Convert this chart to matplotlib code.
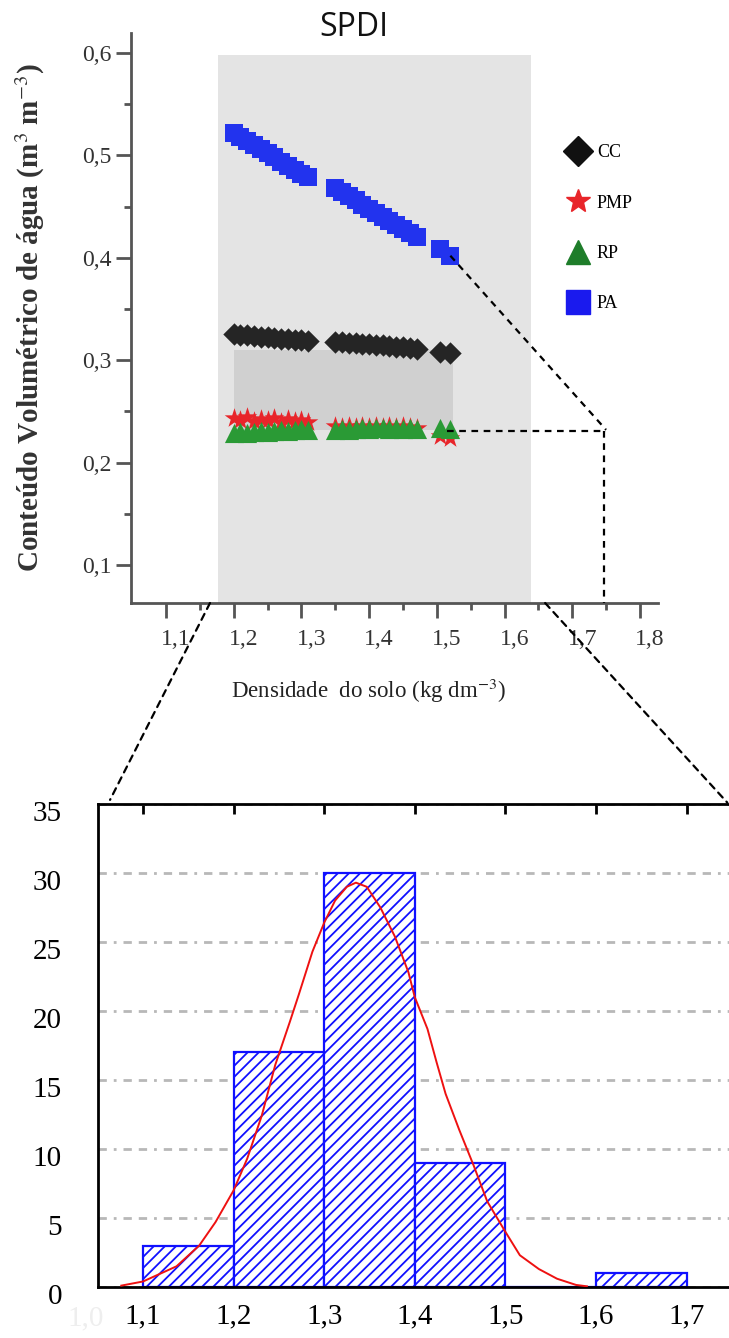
import numpy as np
import matplotlib.pyplot as plt
from matplotlib.lines import Line2D
from matplotlib.patches import ConnectionPatch
import matplotlib.transforms as mtransforms

plt.rcParams['font.family'] = ['Liberation Serif', 'DejaVu Serif']
plt.rcParams['hatch.linewidth'] = 1.3
plt.rcParams['mathtext.fontset'] = 'stix'

# --- top chart: water content vs soil density ---
X_G = [1.20, 1.21, 1.22, 1.23, 1.24, 1.25, 1.26, 1.27, 1.28, 1.29, 1.30, 1.31,
       1.35, 1.36, 1.37, 1.38, 1.39, 1.40, 1.41, 1.42, 1.43, 1.44, 1.45, 1.46, 1.47,
       1.505, 1.52]
PA = [0.522, 0.518, 0.514, 0.510, 0.506, 0.502, 0.498, 0.494, 0.490, 0.486, 0.482, 0.479,
      0.468, 0.464, 0.460, 0.456, 0.452, 0.448, 0.444, 0.440, 0.436, 0.432, 0.428, 0.424, 0.420,
      0.409, 0.402]
CC = [0.326, 0.325, 0.325, 0.324, 0.323, 0.323, 0.322, 0.321, 0.321, 0.320, 0.320, 0.319,
      0.318, 0.318, 0.317, 0.317, 0.316, 0.316, 0.315, 0.315, 0.314, 0.313, 0.313, 0.312, 0.311,
      0.308, 0.307]
PMP = [0.244, 0.242, 0.245, 0.241, 0.243, 0.242, 0.244, 0.240, 0.243, 0.241, 0.242, 0.240,
       0.236, 0.235, 0.236, 0.235, 0.236, 0.235, 0.236, 0.235, 0.236, 0.235, 0.236, 0.235, 0.234,
       0.226, 0.224]
RP = [0.229, 0.230, 0.229, 0.230, 0.231, 0.230, 0.231, 0.232, 0.231, 0.232, 0.233, 0.232,
      0.232, 0.233, 0.232, 0.233, 0.234, 0.233, 0.234, 0.234, 0.233, 0.234, 0.233, 0.234, 0.233,
      0.234, 0.233]

# --- bottom chart: histogram of soil density ---
BIN_EDGES = [1.1, 1.2, 1.3, 1.4, 1.5, 1.6, 1.7]
COUNTS = [3, 17, 30, 9, 0, 1]
CURVE_X = [1.076, 1.100, 1.137, 1.162, 1.180, 1.200, 1.215, 1.231, 1.246, 1.262, 1.272,
           1.287, 1.300, 1.312, 1.325, 1.335, 1.347, 1.362, 1.378, 1.393, 1.400, 1.414,
           1.424, 1.434, 1.449, 1.465, 1.480, 1.500, 1.516, 1.537, 1.557, 1.578, 1.590]
CURVE_Y = [0.1, 0.4, 1.5, 3.0, 4.7, 7.0, 9.3, 12.4, 16.1, 19.2, 21.2,
           24.3, 26.4, 28.0, 29.0, 29.3, 29.0, 27.5, 25.4, 22.8, 21.0, 18.7,
           16.3, 14.0, 11.4, 8.8, 6.2, 4.0, 2.3, 1.3, 0.6, 0.15, 0.05]

W, H = 729, 1338
fig = plt.figure(figsize=(W / 100, H / 100), dpi=100)


def px_axes(l, t, r, b):
    return fig.add_axes([l / W, 1 - b / H, (r - l) / W, (b - t) / H])


def comma(v, nd=1):
    return ('%.*f' % (nd, v)).replace('.', ',')


# top axes
ax = px_axes(131, 33, 658, 603)
ax.set_xlim(1.0483, 1.8267)
ax.set_ylim(0.0629, 0.6195)
for s in ['top', 'right']:
    ax.spines[s].set_visible(False)
for s in ['left', 'bottom']:
    ax.spines[s].set_color('#555555')
    ax.spines[s].set_linewidth(2)

ax.axvspan(1.177, 1.639, ymax=(0.598 - 0.0629) / (0.6195 - 0.0629), color='#e4e4e4', zorder=0, lw=0)
ax.fill_between([1.2, 1.524], 0.232, 0.31, color='#d0d0d0', zorder=0.5, lw=0)

ax.scatter(X_G, PMP, marker='*', s=220, color='#e8252a', zorder=2, lw=0)
ax.scatter(X_G, RP, marker='^', s=190, color='#2a9a35', zorder=3, lw=0)
ax.scatter(X_G, CC, marker='D', s=130, color='#252525', zorder=3, lw=0)
ax.scatter(X_G, PA, marker='s', s=170, color='#2233ee', zorder=3, lw=0)

yt = [0.1, 0.2, 0.3, 0.4, 0.5, 0.6]
ax.set_yticks(yt)
ax.set_yticklabels([comma(v) for v in yt])
ax.set_yticks([0.15, 0.25, 0.35, 0.45, 0.55], minor=True)
xt = [1.1, 1.2, 1.3, 1.4, 1.5, 1.6, 1.7, 1.8]
ax.set_xticks(xt)
ax.set_xticklabels([comma(v) for v in xt])
ax.set_xticks([1.15, 1.25, 1.35, 1.45, 1.55, 1.65, 1.75], minor=True)
ax.tick_params(axis='both', which='major', length=11, width=2, color='#555555',
               labelsize=17, labelcolor='#333333')
ax.tick_params(axis='both', which='minor', length=5, width=2, color='#555555')
ax.tick_params(axis='y', pad=3)
ax.tick_params(axis='x', pad=8)
off = mtransforms.ScaledTranslation(10 / 100, 0, fig.dpi_scale_trans)
for lab in ax.get_xticklabels():
    lab.set_transform(lab.get_transform() + off)

ax.set_ylabel('Conteúdo Volumétrico de água (m$^3$ m$^{-3}$)', fontsize=21,
              fontweight='bold', color='#333333')
ax.yaxis.set_label_coords(-0.16, 0.5)
ax.set_xlabel('Densidade  do solo (kg dm$^{-3}$)', fontsize=16.5, color='#222222')
ax.xaxis.set_label_coords(0.45, -0.13)

# guide lines from PA end to density limit
ax.plot([X_G[-1], 1.75], [PA[-1], 0.232], ls=(0, (3, 2.5)), color='black', lw=1.6, clip_on=False, zorder=4)
ax.plot([1.515, 1.75], [0.231, 0.231], ls=(0, (3, 2.5)), color='black', lw=1.6, clip_on=False, zorder=4)
ax.plot([1.747, 1.747], [0.231, 0.0629], ls=(0, (3, 2.5)), color='black', lw=1.6, clip_on=False, zorder=4)

handles = [
    Line2D([], [], ls='', marker='D', ms=15, color='#111111'),
    Line2D([], [], ls='', marker='*', ms=18, color='#e8252a'),
    Line2D([], [], ls='', marker='^', ms=17, color='#1e7d2a'),
    Line2D([], [], ls='', marker='s', ms=17, color='#1a1aee'),
]
fig.legend(handles, ['CC', 'PMP', 'RP', 'PA'], loc='upper left',
           bbox_to_anchor=(548 / W, 1 - 128 / H), frameon=False, fontsize=13,
           labelspacing=1.85, handletextpad=0.3, handlelength=1.5)

fig.text(354 / W, 1 - 28 / H, 'SPDI', ha='center', va='center', fontsize=23,
         family=['Open Sans', 'DejaVu Sans'], color='#111111')

# bottom axes
bx = px_axes(98, 804, 740, 1287)
bx.set_xlim(1.0503, 1.759)
bx.set_ylim(0, 35)
for s in bx.spines.values():
    s.set_color('black')
    s.set_linewidth(2)

bt_y = [0, 5, 10, 15, 20, 25, 30, 35]
bx.set_yticks(bt_y)
bx.set_yticklabels([str(v) for v in bt_y])
bx.yaxis.grid(True, color='#b8b8b8', lw=2, ls=(0, (3, 2.5, 1, 2.5, 3, 2.5)), zorder=0)
bx.set_axisbelow(True)
bx.tick_params(axis='y', length=0, labelsize=21, pad=26)
offy = mtransforms.ScaledTranslation(0, -7 / 100, fig.dpi_scale_trans)
for lab in bx.get_yticklabels():
    lab.set_transform(lab.get_transform() + offy)

bt = [1.1, 1.2, 1.3, 1.4, 1.5, 1.6, 1.7]
bx.set_xticks(bt)
bx.set_xticklabels([comma(v) for v in bt])
bx.tick_params(axis='x', bottom=False, top=True, direction='in', length=7, width=2,
               labelsize=21, pad=12)
# faint leftmost label
bx.text(-0.02, -0.065, '1,0', transform=bx.transAxes, ha='center', va='center',
        fontsize=21, color='#eeeeee')

bx.bar(BIN_EDGES[:-1], COUNTS, width=0.1, align='edge', facecolor='white',
       edgecolor='#1010ff', hatch='///', lw=1.6, zorder=2)
bx.plot(CURVE_X, CURVE_Y, color='#ee1111', lw=1.4, zorder=3)

# zoom connectors between charts
for xa, xb, yb in [(1.165, 1.0636, 35.3), (1.66, 1.745, 35.1)]:
    con = ConnectionPatch(xyA=(xa, 0.0629), coordsA=ax.transData,
                          xyB=(xb, yb), coordsB=bx.transData,
                          ls=(0, (3, 2.5)), color='black', lw=1.6)
    fig.add_artist(con)

fig.savefig('out.png', dpi=100)
